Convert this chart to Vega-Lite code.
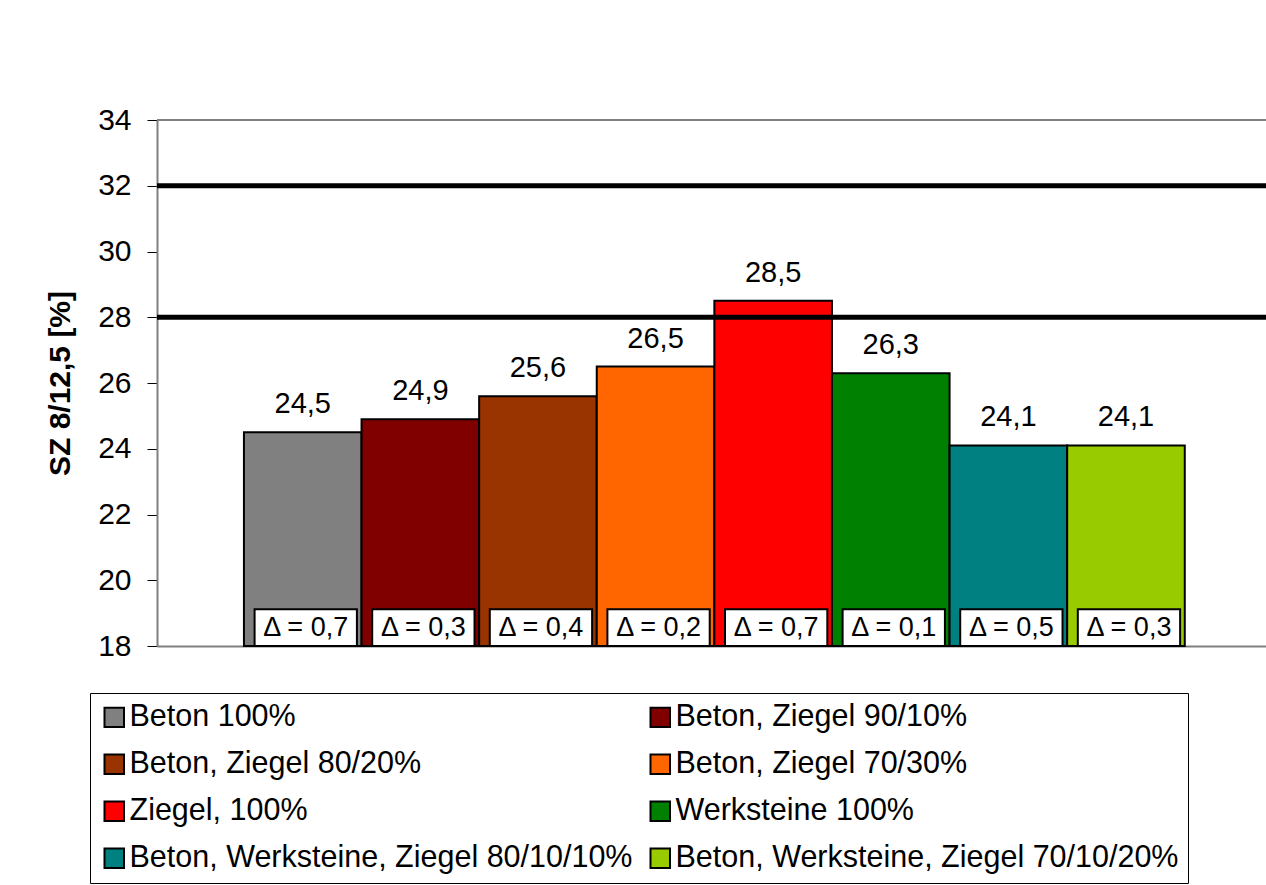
{
  "$schema": "https://vega.github.io/schema/vega-lite/v6.json",
  "width": 1109,
  "height": 526,
  "autosize": "none",
  "padding": {"left": 157, "top": 120, "right": 0, "bottom": 239},
  "config": {
    "font": "Liberation Sans",
    "locale": {"number": {"decimal": ",", "thousands": ".", "grouping": [3], "currency": ["", " €"]}},
    "view": {"stroke": null}
  },
  "data": {
    "values": [
      {"material": "Beton 100%", "sz": 24.5, "delta_label": "Δ = 0,7"},
      {"material": "Beton, Ziegel 90/10%", "sz": 24.9, "delta_label": "Δ = 0,3"},
      {"material": "Beton, Ziegel 80/20%", "sz": 25.6, "delta_label": "Δ = 0,4"},
      {"material": "Beton, Ziegel 70/30%", "sz": 26.5, "delta_label": "Δ = 0,2"},
      {"material": "Ziegel, 100%", "sz": 28.5, "delta_label": "Δ = 0,7"},
      {"material": "Werksteine 100%", "sz": 26.3, "delta_label": "Δ = 0,1"},
      {"material": "Beton, Werksteine, Ziegel 80/10/10%", "sz": 24.1, "delta_label": "Δ = 0,5"},
      {"material": "Beton, Werksteine, Ziegel 70/10/20%", "sz": 24.1, "delta_label": "Δ = 0,3"}
    ]
  },
  "encoding": {
    "x": {
      "field": "material", "type": "nominal", "sort": null,
      "scale": {"paddingInner": 0, "paddingOuter": 0.715, "align": 0.517},
      "axis": {"labels": false, "ticks": false, "title": null, "domainColor": "#808080", "domainWidth": 2}
    }
  },
  "layer": [
    {
      "mark": {"type": "rule", "color": "#808080", "strokeWidth": 2},
      "encoding": {"y": {"datum": 34, "type": "quantitative"}, "x": null}
    },
    {
      "mark": {"type": "bar", "stroke": "black", "strokeWidth": 2},
      "encoding": {
        "y": {
          "field": "sz", "type": "quantitative",
          "scale": {"domain": [18, 34], "zero": false, "nice": false},
          "axis": {
            "values": [18, 20, 22, 24, 26, 28, 30, 32, 34],
            "format": "d",
            "grid": false,
            "labelFontSize": 30, "labelColor": "black", "labelPadding": 16,
            "tickColor": "black", "tickSize": 10, "tickWidth": 1,
            "domainColor": "#808080", "domainWidth": 2,
            "title": "SZ 8/12,5 [%]", "titleFontSize": 30, "titleFontWeight": "bold",
            "titleColor": "black", "titlePadding": 22
          }
        },
        "y2": {"datum": 18},
        "color": {
          "field": "material", "type": "nominal", "sort": null,
          "scale": {
            "domain": ["Beton 100%", "Beton, Ziegel 90/10%", "Beton, Ziegel 80/20%", "Beton, Ziegel 70/30%", "Ziegel, 100%", "Werksteine 100%", "Beton, Werksteine, Ziegel 80/10/10%", "Beton, Werksteine, Ziegel 70/10/20%"],
            "range": ["#808080", "#800000", "#993300", "#FF6600", "#FF0000", "#008000", "#008080", "#99CC00"]
          },
          "legend": {
            "orient": "none", "legendX": -67, "legendY": 573,
            "direction": "horizontal",
            "columns": 2, "title": null,
            "symbolType": "square", "symbolSize": 380,
            "symbolStrokeColor": "black", "symbolStrokeWidth": 2,
            "labelFontSize": 30.5, "labelColor": "black", "labelLimit": 800, "labelOffset": 0,
            "rowPadding": 16, "columnPadding": 12, "padding": 9,
            "strokeColor": "black", "fillColor": "white"
          }
        }
      }
    },
    {
      "data": {"values": [{"limit": 28}, {"limit": 32}]},
      "mark": {"type": "rule", "color": "black", "strokeWidth": 5},
      "encoding": {"y": {"field": "limit", "type": "quantitative"}, "x": null}
    },
    {
      "mark": {"type": "text", "fontSize": 29, "baseline": "alphabetic", "dy": -19, "color": "black"},
      "encoding": {
        "y": {"field": "sz", "type": "quantitative"},
        "text": {"field": "sz", "type": "quantitative", "format": ".1f"}
      }
    },
    {
      "mark": {"type": "bar", "fill": "white", "stroke": "black", "strokeWidth": 2, "width": {"band": 0.87}, "xOffset": 3},
      "encoding": {
        "y": {"datum": 18, "type": "quantitative"},
        "y2": {"datum": 19.12}
      }
    },
    {
      "mark": {"type": "text", "fontSize": 27, "baseline": "middle", "color": "black", "xOffset": 3},
      "encoding": {
        "y": {"datum": 18.56, "type": "quantitative"},
        "text": {"field": "delta_label", "type": "nominal"}
      }
    }
  ]
}
